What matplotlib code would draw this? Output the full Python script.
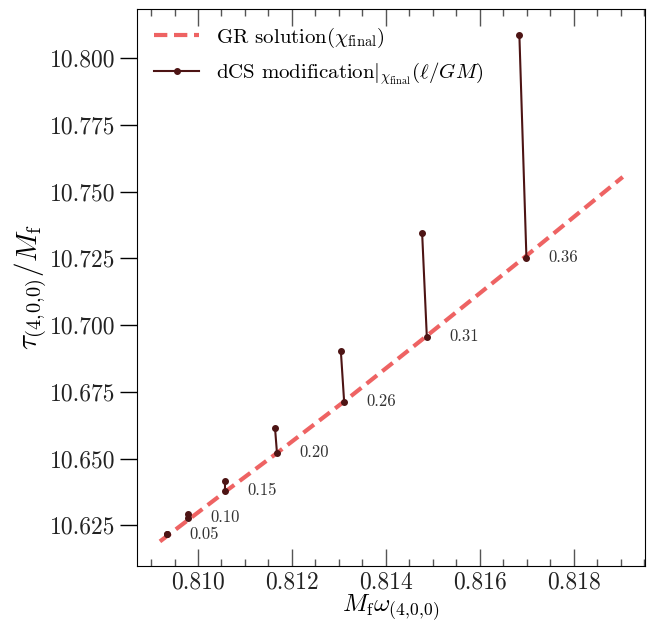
import matplotlib
matplotlib.use("Agg")
import matplotlib.pyplot as plt
from matplotlib.ticker import MultipleLocator, FormatStrFormatter

plt.rcParams['font.family'] = 'serif'
plt.rcParams['font.serif'] = ['cmr10', 'DejaVu Serif']
plt.rcParams['mathtext.fontset'] = 'cm'
plt.rcParams['axes.formatter.use_mathtext'] = True

# coupling values l/GM
ell = ['0.05', '0.10', '0.15', '0.20', '0.26', '0.31', '0.36']

# GR solution at the final spin of each case
gr_omega = [0.80934, 0.80979, 0.81057, 0.81168, 0.81311, 0.81487, 0.81699]
gr_tau = [10.6216, 10.6279, 10.6380, 10.6523, 10.6714, 10.6957, 10.7253]

# dCS modified values
dcs_omega = [0.80934, 0.80979, 0.81057, 0.81164, 0.81304, 0.81477, 0.81684]
dcs_tau = [10.6218, 10.6291, 10.6417, 10.6613, 10.6904, 10.7346, 10.8086]

# GR curve over spin range
gr_line_x = [0.80919, 0.80934, 0.81057, 0.81168, 0.81311, 0.81487, 0.81699, 0.81904]
gr_line_y = [10.6190, 10.6210, 10.6375, 10.6521, 10.6714, 10.6960, 10.7260, 10.7555]

fig, ax = plt.subplots(figsize=(6.52, 6.25), dpi=100)
fig.subplots_adjust(left=0.210, right=0.989, top=0.986, bottom=0.094)

gr_col = '#ee6363'
dcs_col = '#4d1414'

ax.plot(gr_line_x, gr_line_y, '--', color=gr_col, lw=3, dashes=(3.2, 1.6),
        label=r'GR solution$(\chi_{\rm final})$', zorder=2)

for i in range(len(ell)):
    lab = r'dCS modification$|_{\chi_{\rm final}}(\ell/GM)$' if i == 0 else None
    ax.plot([dcs_omega[i], gr_omega[i]], [dcs_tau[i], gr_tau[i]], '-o',
            color=dcs_col, lw=1.5, ms=4, label=lab, zorder=3)
    ax.annotate(ell[i], (gr_omega[i], gr_tau[i]), xytext=(16, 0),
                textcoords='offset points', fontsize=12, color='#333333',
                va='center', ha='left')

ax.set_xlim(0.80870, 0.81951)
ax.set_ylim(10.6097, 10.8185)

ax.xaxis.set_major_locator(MultipleLocator(0.002))
ax.xaxis.set_minor_locator(MultipleLocator(0.0005))
ax.yaxis.set_major_locator(MultipleLocator(0.025))
ax.xaxis.set_major_formatter(FormatStrFormatter('%.3f'))
ax.yaxis.set_major_formatter(FormatStrFormatter('%.3f'))

ax.tick_params(axis='x', which='both', direction='in', top=True, bottom=True,
               labelsize=17, color='#555555', labelcolor='#222222')
ax.tick_params(axis='x', which='major', length=12, width=1)
ax.tick_params(axis='x', which='minor', length=5, width=1)
ax.tick_params(axis='y', which='major', direction='out', left=True, right=False,
               length=12, width=1, labelsize=17, labelcolor='#222222')
ax.tick_params(axis='y', which='minor', left=False, right=False)

ax.set_xlabel(r'$M_{\rm f}\omega_{(4,\!0,\!0)}$', fontsize=18, labelpad=0)
ax.set_ylabel(r'$\tau_{(4,\!0,\!0)}/M_{\rm f}$', fontsize=21, labelpad=0)

ax.legend(loc='upper left', frameon=False, fontsize=15, handlelength=2.2,
          borderaxespad=0.4)

fig.savefig('out.png', dpi=100)
